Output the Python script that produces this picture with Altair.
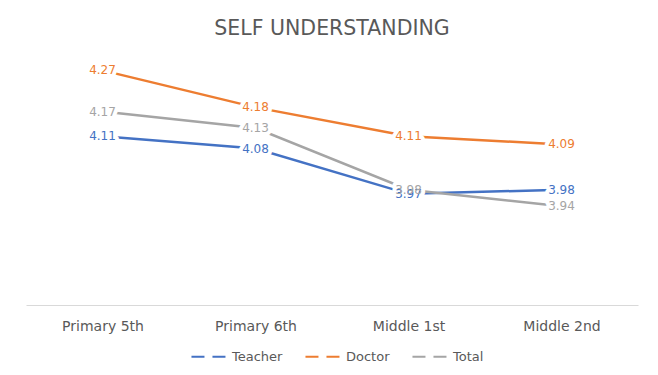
import altair as alt
import pandas as pd

categories = ["Primary 5th", "Primary 6th", "Middle 1st", "Middle 2nd"]
teacher = [4.11, 4.08, 3.97, 3.98]
doctor = [4.27, 4.18, 4.11, 4.09]
total = [4.17, 4.13, 3.98, 3.94]
series_names = ["Teacher", "Doctor", "Total"]
series_colors = ["#4472C4", "#ED7D31", "#A5A5A5"]

rows = []
for name, vals in zip(series_names, [teacher, doctor, total]):
    for c, v in zip(categories, vals):
        rows.append({"Grade": c, "Series": name, "Value": v, "Label": f"{v:.2f}"})
df = pd.DataFrame(rows)

x = alt.X("Grade:N", sort=categories, title=None,
          axis=alt.Axis(labelAngle=0, ticks=False, tickSize=0, labelPadding=14,
                        domainColor="#D9D9D9", domainWidth=1, grid=False,
                        labelFont="DejaVu Sans", labelFontSize=14, labelColor="#595959"))
y = alt.Y("Value:Q", scale=alt.Scale(domain=[3.7, 4.3], nice=False, zero=False), axis=None)
color = alt.Color("Series:N", sort=series_names,
                  scale=alt.Scale(domain=series_names, range=series_colors),
                  legend=alt.Legend(title=None, orient="none", direction="horizontal",
                                    legendX=164, legendY=279,
                                    symbolType="stroke", symbolSize=1300, symbolStrokeWidth=2,
                                    symbolDash=[13, 8], labelOffset=3, columnPadding=18,
                                    labelFont="DejaVu Sans", labelFontSize=13, labelColor="#595959"))

base = alt.Chart(df)
lines = base.mark_line(strokeWidth=2.5).encode(x=x, y=y, color=color, detail="Series:N")
halo = base.mark_text(font="DejaVu Sans", fontSize=12, stroke="white", strokeWidth=8,
                      strokeJoin="round", fill="white").encode(x=x, y=y, text="Label:N", detail="Series:N")
labels = base.mark_text(font="DejaVu Sans", fontSize=12).encode(
    x=x, y=y, text="Label:N", color=alt.Color("Series:N", sort=series_names,
                                               scale=alt.Scale(domain=series_names, range=series_colors),
                                               legend=None))

chart = alt.layer(lines, halo, labels).properties(
    width=612, height=247,
    title=alt.TitleParams("SELF UNDERSTANDING", font="DejaVu Sans", fontSize=20.5,
                          fontWeight="normal", color="#595959", anchor="middle", offset=19),
    autosize=alt.AutoSizeParams(type="none"),
    padding={"left": 26, "top": 58, "right": 20, "bottom": 70},
).configure(background="white").configure_view(strokeWidth=0, stroke="transparent")

chart.save("out.html", embed_options={"renderer": "svg", "actions": False})
